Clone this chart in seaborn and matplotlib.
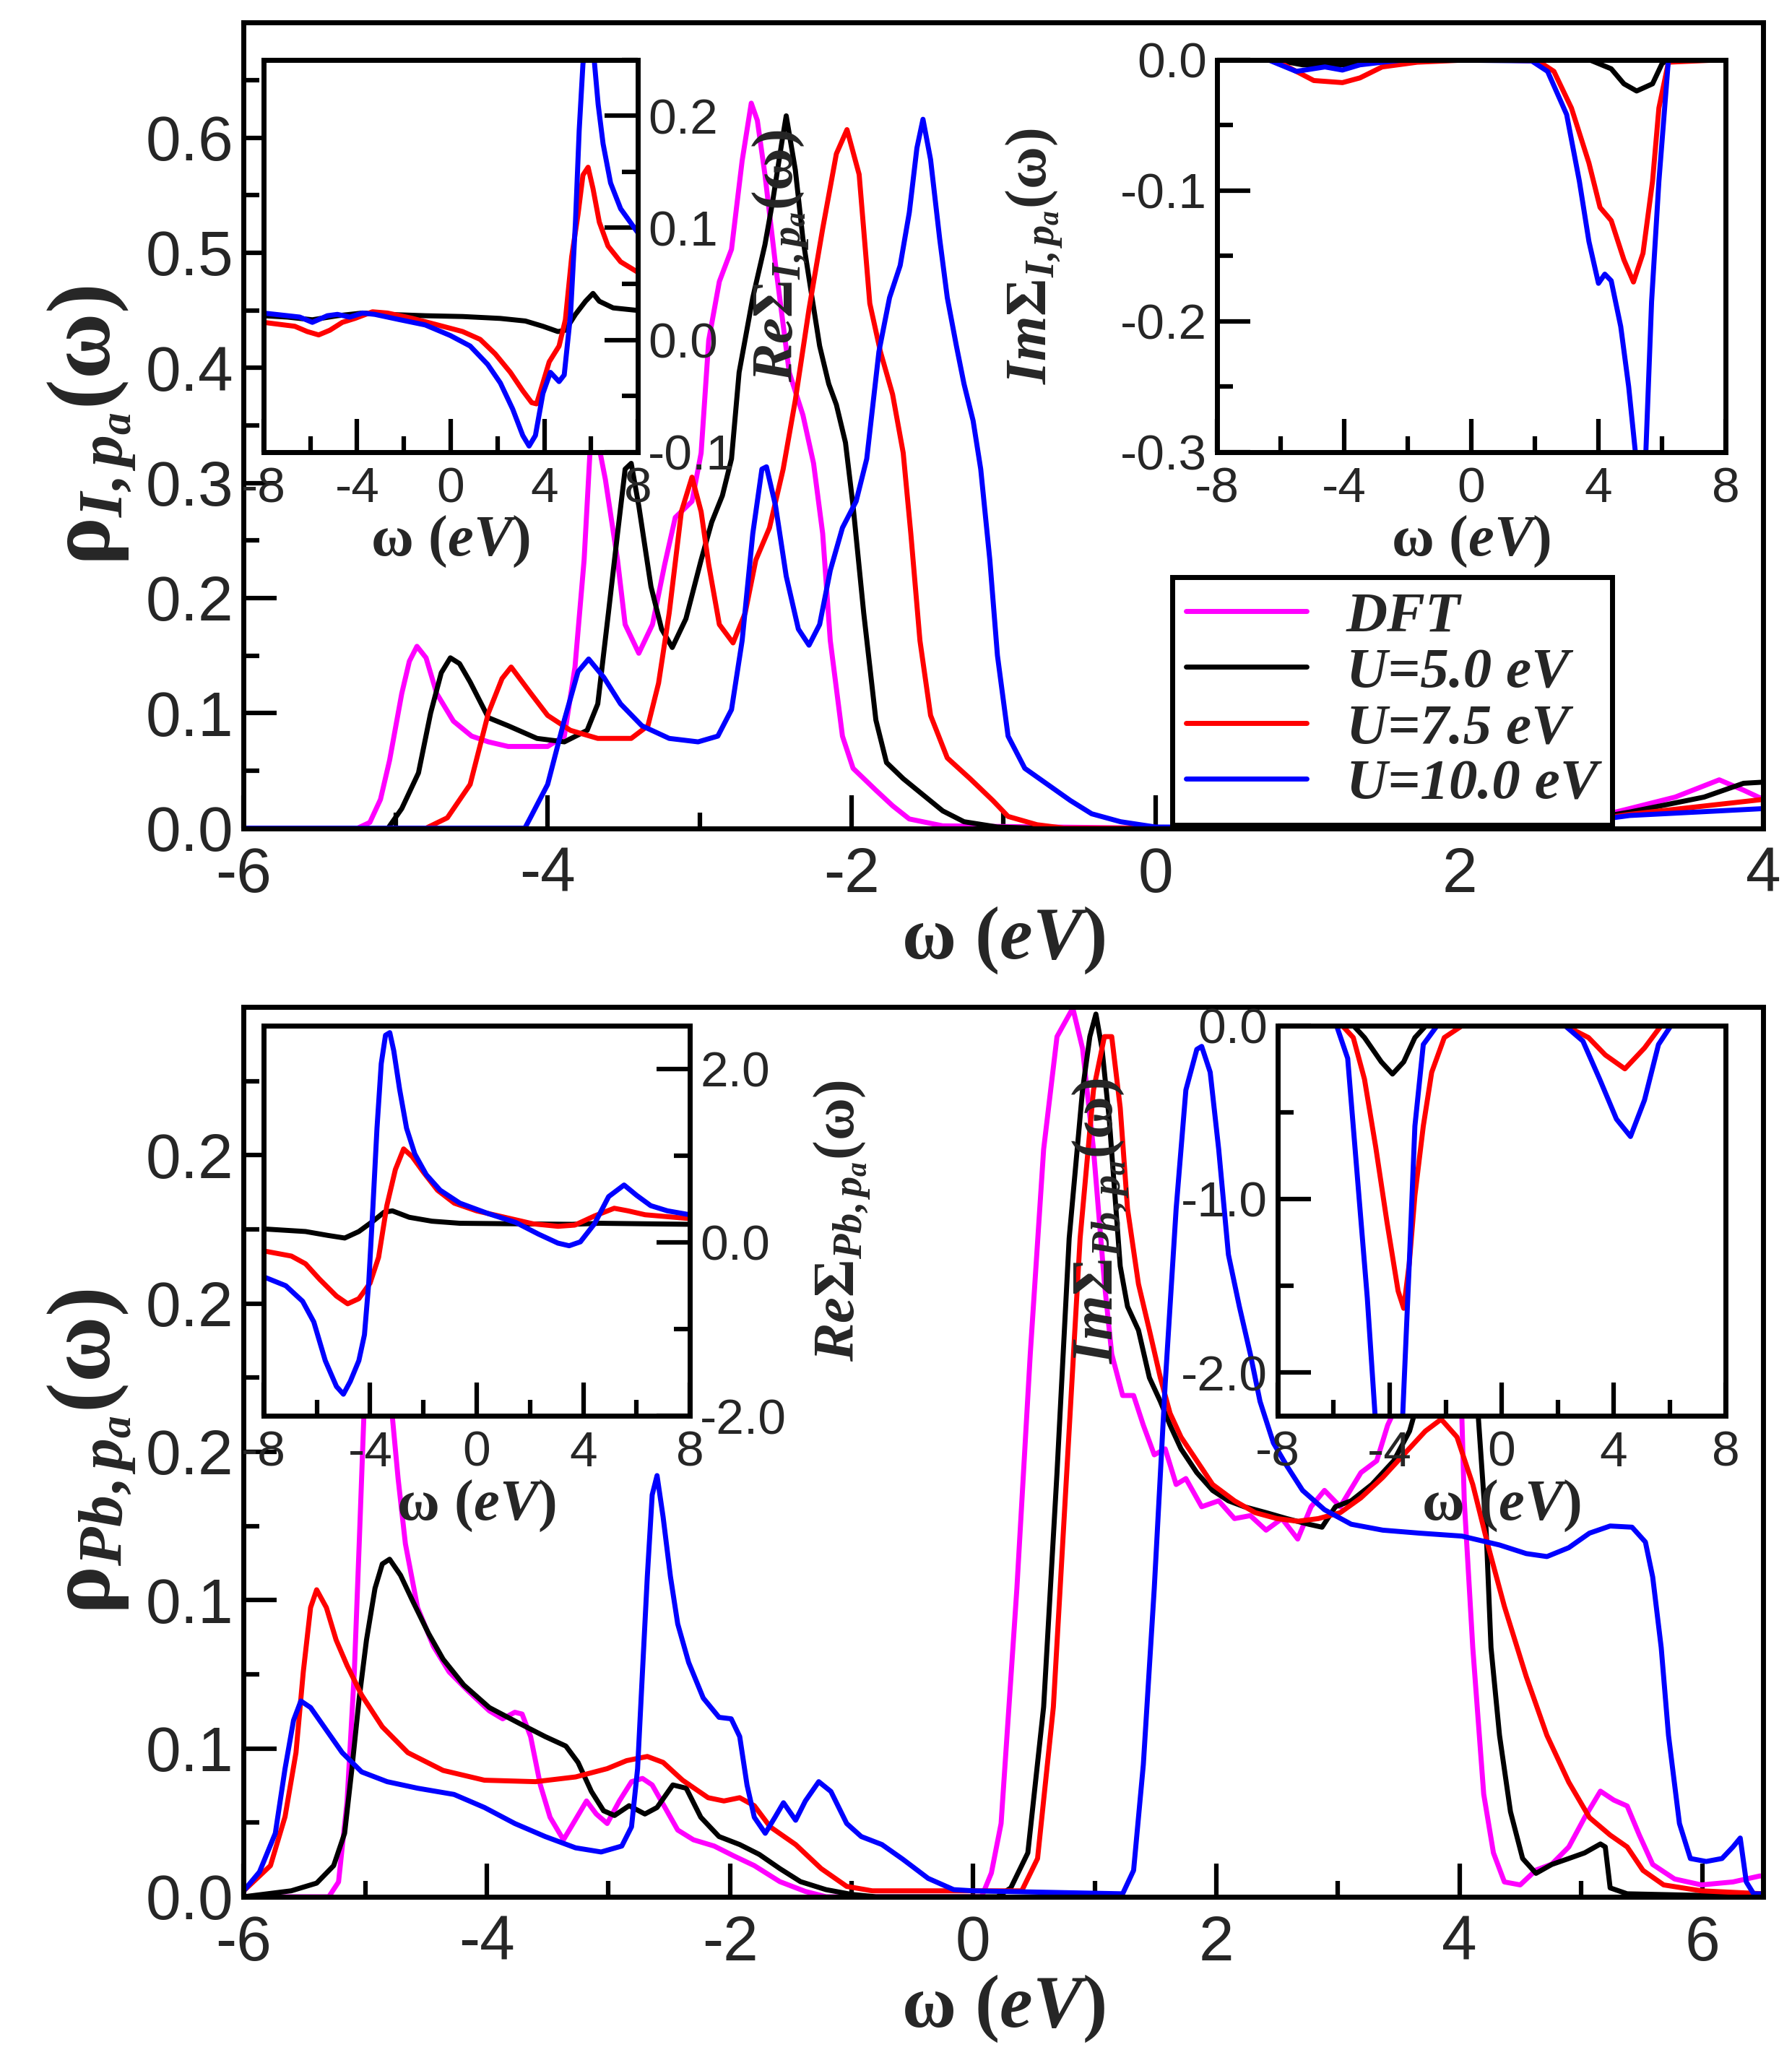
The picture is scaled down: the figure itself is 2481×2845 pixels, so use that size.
import numpy as np
import pandas as pd
import matplotlib
matplotlib.use("Agg")
import matplotlib.pyplot as plt
import seaborn as sns
from matplotlib.ticker import MultipleLocator, FixedLocator, FormatStrFormatter
from matplotlib.lines import Line2D

# ---------------- data, (omega, value) ----------------
series_names = ["DFT", "U=5.0 eV", "U=7.5 eV", "U=10.0 eV"]
series_colors = ["#ff00ff", "#000000", "#ff0000", "#0000ff"]

# Top panel: rho_{I,p_a}
top_dft = [(-6.0, 0), (-5.25, 0), (-5.17, 0.005), (-5.10, 0.025), (-5.04, 0.059), (-4.96, 0.117), (-4.91, 0.145), (-4.86, 0.158), (-4.80, 0.148), (-4.73, 0.117), (-4.62, 0.093), (-4.50, 0.080), (-4.39, 0.075), (-4.26, 0.071), (-4.0, 0.071), (-3.89, 0.08), (-3.82, 0.14), (-3.76, 0.233), (-3.72, 0.33), (-3.69, 0.40), (-3.66, 0.33), (-3.62, 0.303), (-3.54, 0.233), (-3.49, 0.177), (-3.40, 0.152), (-3.31, 0.177), (-3.23, 0.229), (-3.16, 0.27), (-3.05, 0.284), (-2.99, 0.326), (-2.94, 0.424), (-2.87, 0.475), (-2.79, 0.503), (-2.72, 0.58), (-2.66, 0.630), (-2.62, 0.615), (-2.57, 0.568), (-2.50, 0.489), (-2.41, 0.396), (-2.32, 0.359), (-2.25, 0.317), (-2.19, 0.256), (-2.14, 0.163), (-2.06, 0.08), (-1.99, 0.052), (-1.84, 0.033), (-1.73, 0.0195), (-1.62, 0.008), (-1.40, 0.002), (0.0, 0.0), (2.6, 0.0), (3.12, 0.017), (3.42, 0.027), (3.71, 0.042), (3.87, 0.033), (4.0, 0.025)]
top_u5 = [(-6.0, 0), (-5.05, 0), (-4.96, 0.017), (-4.85, 0.048), (-4.77, 0.10), (-4.70, 0.135), (-4.64, 0.148), (-4.58, 0.143), (-4.51, 0.127), (-4.39, 0.096), (-4.26, 0.089), (-4.07, 0.078), (-3.89, 0.075), (-3.74, 0.085), (-3.67, 0.108), (-3.60, 0.187), (-3.54, 0.256), (-3.49, 0.312), (-3.45, 0.317), (-3.40, 0.28), (-3.32, 0.21), (-3.25, 0.173), (-3.18, 0.157), (-3.09, 0.182), (-2.99, 0.233), (-2.92, 0.266), (-2.85, 0.289), (-2.79, 0.321), (-2.74, 0.396), (-2.65, 0.461), (-2.57, 0.507), (-2.52, 0.544), (-2.46, 0.595), (-2.43, 0.619), (-2.37, 0.572), (-2.32, 0.512), (-2.26, 0.461), (-2.21, 0.419), (-2.15, 0.386), (-2.10, 0.368), (-2.04, 0.335), (-1.99, 0.28), (-1.92, 0.187), (-1.84, 0.094), (-1.77, 0.057), (-1.66, 0.043), (-1.53, 0.029), (-1.40, 0.015), (-1.26, 0.0056), (-1.04, 0.001), (-0.8, 0), (2.5, 0), (3.12, 0.014), (3.61, 0.027), (3.87, 0.039), (4.0, 0.04)]
top_u75 = [(-6.0, 0), (-4.80, 0), (-4.66, 0.009), (-4.51, 0.038), (-4.39, 0.10), (-4.30, 0.13), (-4.24, 0.14), (-4.11, 0.117), (-4.0, 0.098), (-3.85, 0.085), (-3.67, 0.078), (-3.45, 0.078), (-3.34, 0.089), (-3.27, 0.126), (-3.20, 0.187), (-3.12, 0.275), (-3.05, 0.305), (-2.99, 0.275), (-2.94, 0.229), (-2.87, 0.177), (-2.78, 0.161), (-2.70, 0.187), (-2.63, 0.233), (-2.54, 0.261), (-2.45, 0.312), (-2.37, 0.372), (-2.28, 0.451), (-2.19, 0.521), (-2.10, 0.586), (-2.03, 0.607), (-1.95, 0.568), (-1.88, 0.456), (-1.81, 0.414), (-1.73, 0.377), (-1.66, 0.326), (-1.61, 0.256), (-1.55, 0.163), (-1.48, 0.098), (-1.37, 0.061), (-1.22, 0.043), (-1.07, 0.024), (-0.97, 0.0102), (-0.78, 0.003), (-0.6, 0), (2.5, 0), (3.12, 0.012), (4.0, 0.025)]
top_u10 = [(-6.0, 0), (-4.15, 0), (-4.11, 0.010), (-4.0, 0.038), (-3.89, 0.094), (-3.80, 0.136), (-3.73, 0.147), (-3.63, 0.131), (-3.52, 0.108), (-3.38, 0.089), (-3.20, 0.078), (-3.01, 0.075), (-2.88, 0.08), (-2.79, 0.103), (-2.72, 0.163), (-2.65, 0.256), (-2.59, 0.312), (-2.56, 0.314), (-2.50, 0.28), (-2.43, 0.219), (-2.35, 0.173), (-2.28, 0.159), (-2.21, 0.177), (-2.14, 0.224), (-2.06, 0.261), (-1.97, 0.284), (-1.90, 0.321), (-1.82, 0.414), (-1.75, 0.461), (-1.68, 0.489), (-1.62, 0.535), (-1.57, 0.591), (-1.53, 0.616), (-1.48, 0.581), (-1.42, 0.512), (-1.37, 0.461), (-1.31, 0.419), (-1.26, 0.386), (-1.20, 0.354), (-1.15, 0.312), (-1.09, 0.233), (-1.04, 0.15), (-0.97, 0.08), (-0.86, 0.052), (-0.71, 0.038), (-0.56, 0.024), (-0.42, 0.0125), (-0.23, 0.0056), (0.0, 0.001), (2.5, 0), (3.12, 0.011), (4.0, 0.017)]

# Top insets: Re / Im Sigma_{I,p_a}  (U=5.0, 7.5, 10.0 eV)
re_i_u5 = [(-8, 0.0216), (-6.98, 0.0204), (-5.91, 0.018), (-4.84, 0.0216), (-3.77, 0.024), (-2.70, 0.0228), (-1.09, 0.0216), (0.51, 0.0209), (2.12, 0.0192), (3.19, 0.0169), (3.94, 0.0122), (4.58, 0.0075), (4.90, 0.0087), (5.33, 0.0228), (5.76, 0.0345), (6.08, 0.0415), (6.35, 0.0345), (6.94, 0.0286), (8, 0.0263)]
re_i_u75 = [(-8, 0.0157), (-6.66, 0.0122), (-6.13, 0.0075), (-5.64, 0.0045), (-5.16, 0.0087), (-4.63, 0.0157), (-4.09, 0.0192), (-3.34, 0.0251), (-2.70, 0.024), (-1.63, 0.0192), (-0.56, 0.0134), (0.51, 0.0075), (1.26, 0.0005), (1.90, -0.0124), (2.55, -0.0289), (3.08, -0.0453), (3.46, -0.0559), (3.67, -0.057), (3.94, -0.0383), (4.21, -0.0195), (4.63, -0.0054), (4.90, 0.018), (5.17, 0.0744), (5.44, 0.112), (5.65, 0.147), (5.87, 0.154), (6.08, 0.135), (6.35, 0.105), (6.72, 0.0838), (7.26, 0.0697), (8, 0.0603)]
re_i_u10 = [(-8, 0.024), (-6.45, 0.0204), (-5.91, 0.0157), (-5.27, 0.0216), (-4.84, 0.0228), (-4.31, 0.0204), (-3.77, 0.024), (-3.24, 0.0228), (-2.16, 0.018), (-1.09, 0.0134), (-0.02, 0.004), (0.83, -0.0054), (1.58, -0.0218), (2.12, -0.0383), (2.65, -0.0617), (3.08, -0.0852), (3.35, -0.0946), (3.62, -0.0852), (3.94, -0.0477), (4.26, -0.0289), (4.63, -0.0371), (4.85, -0.0312), (5.12, 0.0228), (5.33, 0.105), (5.49, 0.187), (5.65, 0.246), (5.85, 0.275), (6.13, 0.25), (6.30, 0.21), (6.51, 0.175), (6.83, 0.14), (7.26, 0.117), (8, 0.0955)]
im_i_u5 = [(-8, 0), (-6.2, 0), (-5.3, -0.004), (-3.9, -0.004), (-3.0, -0.0015), (-2.0, 0), (3.7, 0), (4.4, -0.007), (4.8, -0.0185), (5.2, -0.024), (5.7, -0.0185), (6.0, -0.003), (6.2, 0), (8, 0)]
im_i_u75 = [(-8, 0), (-6.2, 0), (-5.5, -0.009), (-4.95, -0.016), (-4.05, -0.0176), (-3.5, -0.014), (-2.8, -0.0056), (-1.7, -0.002), (0.1, 0), (2.1, -0.001), (2.6, -0.009), (3.15, -0.037), (3.7, -0.079), (4.05, -0.113), (4.4, -0.123), (4.8, -0.153), (5.1, -0.170), (5.4, -0.148), (5.7, -0.093), (5.9, -0.037), (6.2, -0.002), (8, 0)]
im_i_u10 = [(-8, 0), (-6.4, 0), (-5.5, -0.009), (-4.6, -0.0056), (-4.05, -0.008), (-3.5, -0.004), (-2.8, -0.002), (-2.0, 0), (1.9, -0.001), (2.4, -0.009), (3.0, -0.042), (3.4, -0.093), (3.7, -0.139), (4.0, -0.171), (4.2, -0.164), (4.4, -0.169), (4.7, -0.204), (4.95, -0.250), (5.16, -0.300), (5.33, -0.420), (5.49, -0.300), (5.67, -0.185), (5.9, -0.093), (6.2, 0), (8, 0)]

# Bottom panel: rho_{Pb,p_a}
bot_dft = [(-6.0, 0), (-5.30, 0), (-5.22, 0.005), (-5.15, 0.032), (-5.09, 0.0758), (-5.05, 0.119), (-5.0, 0.175), (-4.93, 0.23), (-4.86, 0.245), (-4.80, 0.20), (-4.78, 0.163), (-4.73, 0.141), (-4.67, 0.119), (-4.57, 0.0975), (-4.44, 0.0845), (-4.31, 0.0758), (-4.15, 0.0692), (-3.98, 0.0627), (-3.87, 0.060), (-3.77, 0.0622), (-3.71, 0.0616), (-3.64, 0.054), (-3.56, 0.0377), (-3.48, 0.0268), (-3.37, 0.0192), (-3.29, 0.0247), (-3.18, 0.0323), (-3.10, 0.0279), (-3.01, 0.0247), (-2.91, 0.0323), (-2.81, 0.0388), (-2.72, 0.0399), (-2.64, 0.0377), (-2.55, 0.0312), (-2.43, 0.0225), (-2.30, 0.0192), (-2.13, 0.0171), (-1.97, 0.0138), (-1.80, 0.0105), (-1.59, 0.0051), (-1.38, 0.0018), (-1.21, 0), (0.07, 0), (0.15, 0.008), (0.23, 0.0247), (0.36, 0.104), (0.47, 0.183), (0.58, 0.252), (0.69, 0.29), (0.82, 0.2996), (0.90, 0.286), (0.99, 0.252), (1.08, 0.207), (1.14, 0.183), (1.23, 0.169), (1.32, 0.169), (1.40, 0.159), (1.49, 0.149), (1.58, 0.151), (1.67, 0.139), (1.75, 0.141), (1.88, 0.1315), (2.02, 0.1335), (2.15, 0.1275), (2.28, 0.1285), (2.41, 0.1236), (2.54, 0.1275), (2.67, 0.1206), (2.78, 0.1315), (2.89, 0.137), (3.02, 0.1315), (3.19, 0.143), (3.32, 0.147), (3.41, 0.159), (3.50, 0.167), (3.65, 0.185), (3.78, 0.195), (3.92, 0.185), (4.02, 0.162), (4.04, 0.1335), (4.11, 0.084), (4.20, 0.0346), (4.28, 0.0148), (4.37, 0.005), (4.50, 0.004), (4.63, 0.009), (4.76, 0.011), (4.90, 0.0168), (5.03, 0.0267), (5.16, 0.0356), (5.27, 0.0326), (5.38, 0.0306), (5.48, 0.0208), (5.59, 0.0109), (5.77, 0.006), (5.99, 0.004), (6.25, 0.005), (6.47, 0.007), (6.5, 0.007)]
bot_u5 = [(-6.0, 0), (-5.61, 0.002), (-5.40, 0.0046), (-5.26, 0.0105), (-5.17, 0.0214), (-5.11, 0.0432), (-5.05, 0.067), (-4.99, 0.0866), (-4.92, 0.104), (-4.86, 0.1122), (-4.80, 0.1138), (-4.71, 0.1084), (-4.61, 0.0997), (-4.48, 0.0888), (-4.36, 0.0801), (-4.19, 0.0714), (-3.98, 0.0638), (-3.73, 0.0584), (-3.52, 0.054), (-3.35, 0.0508), (-3.25, 0.0453), (-3.14, 0.0355), (-3.04, 0.029), (-2.95, 0.0274), (-2.83, 0.0307), (-2.70, 0.0279), (-2.60, 0.0301), (-2.47, 0.0377), (-2.36, 0.0366), (-2.24, 0.0268), (-2.09, 0.0203), (-1.92, 0.0176), (-1.76, 0.0143), (-1.59, 0.0095), (-1.42, 0.0051), (-1.21, 0.0024), (-1.0, 0.0008), (-0.8, 0), (0.2, 0), (0.31, 0.003), (0.45, 0.0148), (0.58, 0.064), (0.69, 0.143), (0.79, 0.222), (0.90, 0.272), (0.96, 0.29), (1.01, 0.2976), (1.06, 0.286), (1.12, 0.262), (1.21, 0.2126), (1.27, 0.199), (1.36, 0.191), (1.45, 0.175), (1.54, 0.167), (1.62, 0.159), (1.71, 0.151), (1.84, 0.143), (1.97, 0.137), (2.10, 0.1335), (2.23, 0.1315), (2.41, 0.1295), (2.58, 0.1275), (2.76, 0.1256), (2.87, 0.1246), (2.98, 0.1315), (3.11, 0.1335), (3.28, 0.139), (3.46, 0.147), (3.59, 0.157), (3.75, 0.18), (3.92, 0.2), (4.05, 0.19), (4.15, 0.165), (4.22, 0.1236), (4.26, 0.084), (4.33, 0.0544), (4.42, 0.0287), (4.52, 0.0129), (4.63, 0.0079), (4.76, 0.0109), (4.90, 0.0129), (5.03, 0.0148), (5.16, 0.0178), (5.20, 0.0168), (5.24, 0.003), (5.38, 0.001), (6.5, 0)]
bot_u75 = [(-6.0, 0.002), (-5.78, 0.0105), (-5.66, 0.027), (-5.57, 0.0486), (-5.51, 0.0758), (-5.45, 0.0975), (-5.40, 0.1035), (-5.32, 0.0975), (-5.24, 0.0866), (-5.15, 0.078), (-5.03, 0.068), (-4.86, 0.0573), (-4.65, 0.0486), (-4.36, 0.0426), (-4.02, 0.0393), (-3.60, 0.0388), (-3.27, 0.0404), (-3.01, 0.0432), (-2.85, 0.0459), (-2.68, 0.0473), (-2.55, 0.0453), (-2.39, 0.0393), (-2.18, 0.0334), (-2.05, 0.0323), (-1.92, 0.0334), (-1.80, 0.0307), (-1.67, 0.0236), (-1.46, 0.0176), (-1.25, 0.0095), (-1.04, 0.0035), (-0.83, 0.002), (0.40, 0.002), (0.53, 0.0129), (0.66, 0.064), (0.77, 0.143), (0.88, 0.222), (0.99, 0.272), (1.08, 0.29), (1.14, 0.29), (1.21, 0.266), (1.27, 0.232), (1.36, 0.2066), (1.45, 0.191), (1.54, 0.175), (1.62, 0.163), (1.71, 0.155), (1.84, 0.147), (1.97, 0.139), (2.15, 0.1335), (2.32, 0.1295), (2.50, 0.1275), (2.67, 0.1266), (2.84, 0.1275), (3.02, 0.1295), (3.19, 0.1345), (3.37, 0.1414), (3.54, 0.149), (3.72, 0.157), (3.85, 0.161), (3.98, 0.155), (4.11, 0.139), (4.24, 0.1177), (4.37, 0.0979), (4.55, 0.0742), (4.72, 0.0544), (4.90, 0.0386), (5.07, 0.0267), (5.24, 0.0208), (5.38, 0.0168), (5.51, 0.0089), (5.68, 0.004), (5.99, 0.002), (6.5, 0.001)]
bot_u10 = [(-6.0, 0.002), (-5.87, 0.0084), (-5.74, 0.0214), (-5.66, 0.0432), (-5.59, 0.0595), (-5.53, 0.066), (-5.45, 0.0638), (-5.32, 0.0562), (-5.19, 0.0486), (-5.03, 0.0421), (-4.82, 0.0388), (-4.57, 0.0366), (-4.27, 0.0345), (-4.02, 0.0301), (-3.77, 0.0247), (-3.52, 0.0203), (-3.27, 0.0165), (-3.06, 0.0151), (-2.89, 0.0171), (-2.81, 0.0236), (-2.76, 0.0432), (-2.72, 0.0758), (-2.68, 0.108), (-2.64, 0.1355), (-2.60, 0.142), (-2.55, 0.128), (-2.49, 0.108), (-2.43, 0.092), (-2.34, 0.079), (-2.22, 0.067), (-2.09, 0.0605), (-1.99, 0.060), (-1.92, 0.054), (-1.86, 0.0377), (-1.80, 0.0268), (-1.71, 0.0214), (-1.63, 0.0268), (-1.56, 0.0317), (-1.46, 0.0258), (-1.38, 0.0323), (-1.27, 0.0388), (-1.17, 0.0355), (-1.04, 0.0247), (-0.92, 0.0203), (-0.75, 0.0176), (-0.58, 0.0127), (-0.37, 0.0062), (-0.16, 0.0024), (0.0, 0.002), (1.23, 0.001), (1.32, 0.0089), (1.40, 0.0445), (1.49, 0.104), (1.58, 0.173), (1.67, 0.232), (1.75, 0.272), (1.84, 0.2857), (1.88, 0.2867), (1.95, 0.278), (2.02, 0.252), (2.10, 0.2165), (2.19, 0.199), (2.28, 0.183), (2.36, 0.167), (2.47, 0.153), (2.58, 0.1453), (2.71, 0.137), (2.89, 0.1305), (3.11, 0.1256), (3.37, 0.1236), (3.67, 0.1226), (4.02, 0.1216), (4.33, 0.1186), (4.55, 0.1157), (4.72, 0.1147), (4.90, 0.1177), (5.07, 0.1226), (5.24, 0.125), (5.42, 0.1246), (5.53, 0.1196), (5.59, 0.1078), (5.66, 0.084), (5.72, 0.0544), (5.81, 0.0247), (5.90, 0.0129), (6.03, 0.0119), (6.16, 0.0129), (6.25, 0.0168), (6.31, 0.0198), (6.36, 0.005), (6.42, 0.001), (6.5, 0.001)]

# Bottom insets: Re / Im Sigma_{Pb,p_a}  (U=5.0, 7.5, 10.0 eV)
re_pb_u5 = [(-8, 0.155), (-6.42, 0.125), (-5.58, 0.08), (-4.95, 0.05), (-4.42, 0.125), (-3.89, 0.244), (-3.47, 0.348), (-3.16, 0.363), (-2.53, 0.289), (-1.68, 0.244), (-0.63, 0.22), (1.47, 0.214), (3.58, 0.208), (4.63, 0.22), (8, 0.208)]
re_pb_u75 = [(-8, -0.098), (-6.95, -0.158), (-6.42, -0.247), (-5.89, -0.426), (-5.26, -0.619), (-4.84, -0.708), (-4.42, -0.649), (-4.0, -0.47), (-3.68, -0.173), (-3.37, 0.423), (-3.05, 0.839), (-2.74, 1.077), (-2.42, 0.988), (-2.0, 0.81), (-1.47, 0.601), (-0.84, 0.452), (0, 0.363), (1.05, 0.289), (2.11, 0.214), (3.05, 0.185), (3.68, 0.199), (4.42, 0.304), (5.16, 0.393), (5.68, 0.363), (6.32, 0.318), (8, 0.274)]
re_pb_u10 = [(-8, -0.396), (-7.16, -0.5), (-6.53, -0.679), (-6.11, -0.917), (-5.68, -1.363), (-5.26, -1.661), (-5.0, -1.75), (-4.74, -1.601), (-4.42, -1.363), (-4.21, -1.065), (-4.05, -0.47), (-3.89, 0.423), (-3.74, 1.315), (-3.58, 2.06), (-3.42, 2.387), (-3.26, 2.417), (-3.11, 2.208), (-2.89, 1.762), (-2.63, 1.315), (-2.32, 1.018), (-1.89, 0.78), (-1.37, 0.601), (-0.63, 0.452), (0.42, 0.333), (1.47, 0.229), (2.32, 0.095), (3.05, -0.009), (3.47, -0.039), (3.89, 0.006), (4.42, 0.214), (4.95, 0.527), (5.53, 0.661), (6.0, 0.542), (6.53, 0.423), (7.16, 0.363), (8, 0.318)]
im_pb_u5 = [(-8, 0), (-5.3, 0), (-4.9, -0.07), (-4.3, -0.21), (-3.9, -0.28), (-3.5, -0.21), (-3.1, -0.07), (-2.7, 0), (8, 0)]
im_pb_u75 = [(-8, 0), (-5.7, 0), (-5.3, -0.07), (-4.9, -0.31), (-4.5, -0.70), (-4.1, -1.13), (-3.7, -1.53), (-3.5, -1.63), (-3.3, -1.37), (-3.1, -0.98), (-2.8, -0.58), (-2.5, -0.27), (-2.05, -0.07), (-1.4, 0), (2.25, 0), (3.1, -0.07), (3.7, -0.17), (4.4, -0.25), (5.1, -0.13), (5.7, 0), (8, 0)]
im_pb_u10 = [(-8, 0), (-5.9, 0), (-5.5, -0.19), (-5.1, -0.98), (-4.8, -1.57), (-4.5, -2.30), (-4.0, -3.0), (-3.55, -2.30), (-3.3, -1.37), (-3.1, -0.58), (-2.8, -0.11), (-2.3, 0), (2.25, 0), (2.9, -0.09), (3.5, -0.31), (4.1, -0.54), (4.6, -0.64), (5.1, -0.43), (5.6, -0.11), (6.05, 0), (8, 0)]

bot_ytick_vals = [0.0, 0.05, 0.10, 0.15, 0.20, 0.25]
bot_ytick_labels = ["0.0", "0.1", "0.1", "0.2", "0.2", "0.2"]

# ---------------- style ----------------
sns.set_style("ticks")
plt.rcParams["font.family"] = ["Liberation Sans", "DejaVu Sans"]
plt.rcParams["axes.unicode_minus"] = False
plt.rcParams["mathtext.fontset"] = "custom"
plt.rcParams["mathtext.rm"] = "Liberation Serif:bold"
plt.rcParams["mathtext.it"] = "Liberation Serif:italic:bold"
plt.rcParams["mathtext.bf"] = "Liberation Serif:bold"

LW = 5.0
SPINE = 5.0
TICK_FS = 63
IN_TICK_FS = 50
YLABEL_FS = 90
XLABEL_FS = 74
IN_LABEL_FS = 58
IN_XLABEL_FS = 58

fig = plt.figure(figsize=(24.81, 28.45), dpi=100)


def draw(ax, pts, color):
    df = pd.DataFrame(pts, columns=["x", "y"])
    sns.lineplot(data=df, x="x", y="y", ax=ax, color=color, linewidth=LW,
                 estimator=None, sort=False, legend=False)
    for ln in ax.lines:
        ln.set_solid_joinstyle("round")


def style(ax, left=True, right=False, xpad=14):
    for s in ax.spines.values():
        s.set_linewidth(SPINE)
        s.set_color("black")
    ax.tick_params(which="both", direction="in", width=4.5, color="black",
                   top=False, bottom=True, left=left, right=right,
                   labelleft=left, labelright=right)
    ax.tick_params(which="major", length=33, pad=10)
    ax.tick_params(which="minor", length=16)
    ax.tick_params(axis="x", which="major", pad=xpad)
    ax.grid(False)


def inset(rect, curves, ylim, ymaj, ymin, label, right):
    a = fig.add_axes(rect)
    a.set_facecolor("white")
    for pts, c in zip(curves, series_colors[1:]):
        draw(a, pts, c)
    a.set_xlim(-8, 8)
    a.set_ylim(*ylim)
    a.xaxis.set_major_locator(MultipleLocator(4))
    a.xaxis.set_minor_locator(MultipleLocator(2))
    a.yaxis.set_major_locator(MultipleLocator(ymaj))
    a.yaxis.set_minor_locator(MultipleLocator(ymin))
    a.yaxis.set_major_formatter(FormatStrFormatter("%.1f"))
    style(a, left=not right, right=right)
    a.tick_params(labelsize=IN_TICK_FS)
    if right:
        a.yaxis.set_label_position("right")
    a.set_xlabel(r"$\mathrm{\omega}\ (eV)$", fontsize=IN_XLABEL_FS, labelpad=2)
    a.set_ylabel(label, fontsize=IN_LABEL_FS)
    return a


# ---- top main ----
ax1 = fig.add_axes([0.136, 0.597, 0.848, 0.392])
for pts, c in zip([top_dft, top_u5, top_u75, top_u10], series_colors):
    draw(ax1, pts, c)
ax1.set_xlim(-6, 4)
ax1.set_ylim(0, 0.7)
ax1.xaxis.set_major_locator(MultipleLocator(2))
ax1.xaxis.set_minor_locator(MultipleLocator(1))
ax1.yaxis.set_major_locator(FixedLocator([0, 0.1, 0.2, 0.3, 0.4, 0.5, 0.6]))
ax1.yaxis.set_minor_locator(FixedLocator([0.05, 0.15, 0.25, 0.35, 0.45, 0.55, 0.65]))
ax1.yaxis.set_major_formatter(FormatStrFormatter("%.1f"))
style(ax1, xpad=18)
ax1.tick_params(labelsize=TICK_FS)
ax1.set_xlabel(r"$\mathrm{\omega}\ (eV)$", fontsize=XLABEL_FS, labelpad=0)
ax1.set_ylabel(r"$\mathrm{\rho}_{I,p_a}(\mathrm{\omega})$", fontsize=YLABEL_FS, labelpad=8)

handles = [Line2D([], [], color=c, lw=LW) for c in series_colors]
leg = ax1.legend(handles, series_names, loc="lower left",
                 bbox_to_anchor=(0.654, 0.5985), bbox_transform=fig.transFigure,
                 prop=dict(family="Liberation Serif", weight="bold", style="italic", size=57),
                 frameon=True, fancybox=False, framealpha=1, edgecolor="black",
                 handlelength=2.1, handletextpad=0.7, labelspacing=0.06,
                 borderpad=0.25, borderaxespad=0)
leg.get_frame().set_linewidth(SPINE)
leg.set_zorder(10)

a = inset([0.147, 0.780, 0.209, 0.191], [re_i_u5, re_i_u75, re_i_u10], (-0.1, 0.25), 0.1, 0.05,
          r"$Re\Sigma_{I,p_a}(\mathrm{\omega})$", right=True)
a.yaxis.labelpad = 16

a = inset([0.679, 0.780, 0.284, 0.191], [im_i_u5, im_i_u75, im_i_u10], (-0.3, 0.0), 0.1, 0.05,
          r"$Im\Sigma_{I,p_a}(\mathrm{\omega})$", right=False)
a.yaxis.labelpad = 55

# ---- bottom main ----
ax2 = fig.add_axes([0.136, 0.077, 0.848, 0.433])
for pts, c in zip([bot_dft, bot_u5, bot_u75, bot_u10], series_colors):
    draw(ax2, pts, c)
ax2.set_xlim(-6, 6.5)
ax2.set_ylim(0, 0.3)
ax2.xaxis.set_major_locator(MultipleLocator(2))
ax2.xaxis.set_minor_locator(MultipleLocator(1))
ax2.yaxis.set_major_locator(FixedLocator(bot_ytick_vals))
ax2.set_yticklabels(bot_ytick_labels)
ax2.yaxis.set_minor_locator(FixedLocator([0.025, 0.075, 0.125, 0.175, 0.225, 0.275]))
style(ax2, xpad=18)
ax2.tick_params(labelsize=TICK_FS)
ax2.set_xlabel(r"$\mathrm{\omega}\ (eV)$", fontsize=XLABEL_FS, labelpad=0)
ax2.set_ylabel(r"$\mathrm{\rho}_{Pb,p_a}(\mathrm{\omega})$", fontsize=YLABEL_FS, labelpad=8)

a = inset([0.147, 0.311, 0.238, 0.190], [re_pb_u5, re_pb_u75, re_pb_u10], (-2.0, 2.5), 2.0, 1.0,
          r"$Re\Sigma_{Pb,p_a}(\mathrm{\omega})$", right=True)
a.yaxis.labelpad = 26

a = inset([0.713, 0.311, 0.250, 0.190], [im_pb_u5, im_pb_u75, im_pb_u10], (-2.25, 0.0), 1.0, 0.5,
          r"$Im\Sigma_{Pb,p_a}(\mathrm{\omega})$", right=False)
a.yaxis.labelpad = 50

fig.savefig("out.png", dpi=100, facecolor="white")
